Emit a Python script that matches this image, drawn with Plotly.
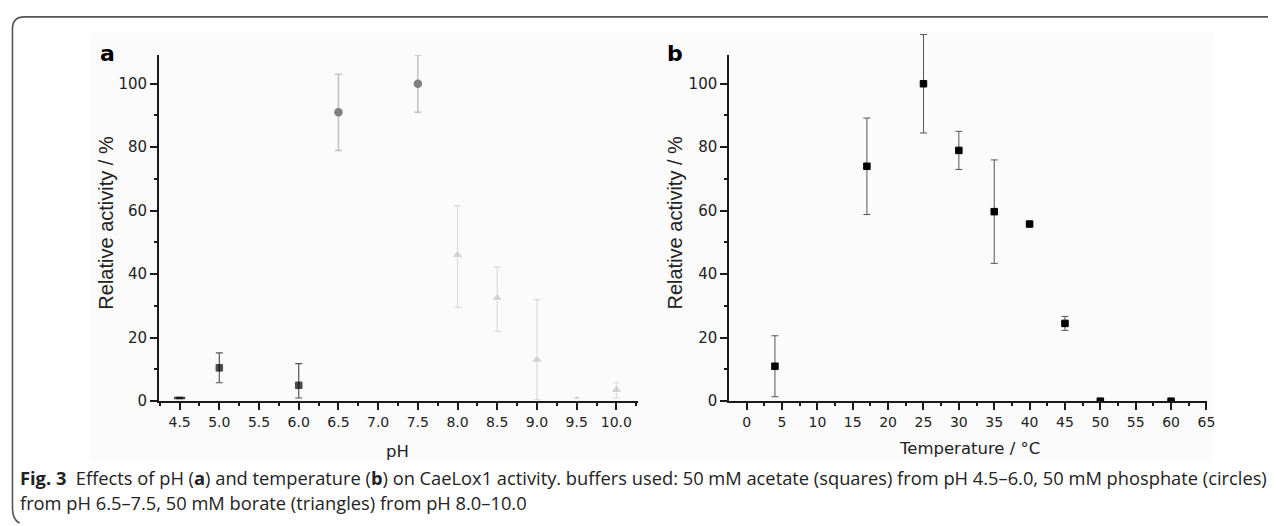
import plotly.graph_objects as go

# ---- Data: panel a (pH) ----
ph_acetate = [4.5, 5.0, 6.0]
act_acetate = [1.0, 10.5, 5.0]
err_acetate_plus = [0.2, 4.7, 6.8]
err_acetate_minus = [0.2, 4.7, 4.0]

ph_phosphate = [6.5, 7.5]
act_phosphate = [91.0, 100.0]
err_phosphate = [12.0, 9.0]

ph_borate = [8.0, 8.5, 9.0, 9.5, 10.0]
act_borate = [46.0, 32.5, 13.0, 1.0, 3.5]
err_borate_plus = [15.5, 9.8, 19.0, 0.0, 2.3]
err_borate_minus = [16.5, 10.5, 12.5, 0.0, 2.5]

# ---- Data: panel b (temperature) ----
temp_c = [4, 17, 25, 30, 35, 40, 45, 50, 60]
act_temp = [11.0, 74.0, 100.0, 79.0, 59.7, 55.8, 24.5, 0.0, 0.0]
err_temp = [9.6, 15.2, 15.5, 6.0, 16.3, 0.0, 2.2, 0.0, 0.0]

ph_ticks = [4.5, 5.0, 5.5, 6.0, 6.5, 7.0, 7.5, 8.0, 8.5, 9.0, 9.5, 10.0]
ph_ticklabels = ["%.1f" % v for v in ph_ticks]
temp_ticks = list(range(0, 70, 5))
y_ticks = [0, 20, 40, 60, 80, 100]

FONT = "Liberation Sans, Arial, sans-serif"
WIDE = "DejaVu Sans, Liberation Sans, sans-serif"
W, H = 1276, 526
Y0_PX, YTOP_PX, YTOP_DATA = 400, 48, 109.0

fig = go.Figure()

fig.add_trace(go.Scatter(
    x=ph_acetate, y=act_acetate, mode="markers", xaxis="x", yaxis="y",
    marker=dict(symbol=["line-ew", "square", "square"], size=[8, 6.5, 6.5], color="black",
                line=dict(color="black", width=[2.5, 1, 1])),
    error_y=dict(type="data", symmetric=False, array=err_acetate_plus,
                 arrayminus=err_acetate_minus, color="#555555", thickness=1.2, width=3.5),
    showlegend=False))

fig.add_trace(go.Scatter(
    x=ph_phosphate, y=act_phosphate, mode="markers", xaxis="x", yaxis="y",
    marker=dict(symbol="circle", size=8.5, color="#7f7f7f"),
    error_y=dict(type="data", array=err_phosphate, color="#c2c2c2", thickness=1.5, width=3.5),
    showlegend=False))

fig.add_trace(go.Scatter(
    x=ph_borate, y=act_borate, mode="markers", xaxis="x", yaxis="y",
    marker=dict(symbol="triangle-up", size=[10, 10, 10, 6, 10], color="#c6c6c6"),
    error_y=dict(type="data", symmetric=False, array=err_borate_plus,
                 arrayminus=err_borate_minus, color="#dadada", thickness=1.2, width=3.5),
    showlegend=False))

# empty trace so the visible panel-b axes form a subplot
fig.add_trace(go.Scatter(x=[], y=[], xaxis="x2", yaxis="y2", mode="markers",
                         showlegend=False, hoverinfo="skip"))

# panel b data on a hidden y axis with the same scale but a taller plot area,
# so the top error bar can extend above the visible axis line (as in the original)
fig.add_trace(go.Scatter(
    x=temp_c, y=act_temp, mode="markers", xaxis="x2", yaxis="y3",
    marker=dict(symbol="square", size=6.5, color="black", line=dict(color="black", width=1)),
    error_y=dict(type="data", array=err_temp, color="#555555", thickness=1, width=3.5),
    showlegend=False))

ydom = [1 - Y0_PX / H, 1 - YTOP_PX / H]
pxu = (Y0_PX - YTOP_PX) / YTOP_DATA
Y3TOP_PX = 18
y3dom = [1 - Y0_PX / H, 1 - Y3TOP_PX / H]
y3range = [0, (Y0_PX - Y3TOP_PX) / pxu]

# horizontal layout (pixels)
A_L, A_R, A_45, A_10 = 151.8, 633.5, 172.7, 612.2
pxa = (A_10 - A_45) / 5.5
xa_range = [4.5 - (A_45 - A_L) / pxa, 10.0 + (A_R - A_10) / pxa]
B_L, B_R, B_0, B_65 = 725.6, 1206.8, 743.3, 1206.0
pxb = (B_65 - B_0) / 65
xb_range = [-(B_0 - B_L) / pxb, 65 + (B_R - B_65) / pxb]

axis_common = dict(showline=True, linecolor="#1a1a1a", linewidth=1.6, ticks="outside",
                   ticklen=7, tickwidth=1.6, tickcolor="#1a1a1a", showgrid=False,
                   zeroline=False)
xfont = dict(family=WIDE, size=14, color="#222")
yfont = dict(family=WIDE, size=15, color="#222")
minor_style = dict(ticks="outside", ticklen=3.5, tickwidth=1.6, tickcolor="#1a1a1a")

fig.update_layout(
    width=W, height=H,
    margin=dict(l=0, r=0, t=0, b=0),
    paper_bgcolor="white", plot_bgcolor="rgba(0,0,0,0)",
    xaxis=dict(domain=[A_L / W, A_R / W], range=xa_range, anchor="y",
               tickmode="array", tickvals=ph_ticks, ticktext=ph_ticklabels,
               tickfont=xfont, minor=dict(dtick=0.25, tick0=4.25, **minor_style),
               **axis_common),
    yaxis=dict(domain=ydom, range=[0, YTOP_DATA], anchor="x",
               tickmode="array", tickvals=y_ticks, tickfont=yfont,
               minor=dict(dtick=10, tick0=0, **minor_style), **axis_common),
    xaxis2=dict(domain=[B_L / W, B_R / W], range=xb_range, anchor="y2",
                tickmode="array", tickvals=temp_ticks, tickfont=xfont,
                minor=dict(dtick=2.5, tick0=0, **minor_style), **axis_common),
    yaxis2=dict(domain=ydom, range=[0, YTOP_DATA], anchor="x2",
                tickmode="array", tickvals=y_ticks, tickfont=yfont,
                minor=dict(dtick=10, tick0=0, **minor_style), **axis_common),
    yaxis3=dict(domain=y3dom, range=y3range, anchor="x2", visible=False,
                showgrid=False, zeroline=False),
)

def px(x, y):
    return x / W, 1 - y / H

ann = []
for label, (x, y) in [("a", (100, 46)), ("b", (671, 46))]:
    ax_, ay_ = px(x, y)
    ann.append(dict(text="<b>%s</b>" % label, x=ax_, y=ay_, xref="paper", yref="paper",
                    showarrow=False, xanchor="center", yanchor="middle",
                    font=dict(family=WIDE, size=22, color="black")))
for x in (98.5, 671):
    ax_, ay_ = px(x, 218.5)
    ann.append(dict(text="Relative activity / %", x=ax_, y=ay_, xref="paper", yref="paper",
                    textangle=-90, showarrow=False, xanchor="center", yanchor="middle",
                    font=dict(family=FONT, size=20, color="#222")))
for text, x, y in [("pH", 392, 451), ("Temperature / °C", 968, 448)]:
    ax_, ay_ = px(x, y)
    ann.append(dict(text=text, x=ax_, y=ay_, xref="paper", yref="paper",
                    showarrow=False, xanchor="center", yanchor="middle",
                    font=dict(family=WIDE, size=16.5, color="#222")))

caption1 = ("<b>Fig. 3</b>\u00a0 Effects of pH (<b>a</b>) and temperature (<b>b</b>) on CaeLox1 activity. "
            "buffers used: 50 mM acetate (squares) from pH 4.5–6.0, 50 mM phosphate (circles)")
caption2 = "from pH 6.5–7.5, 50 mM borate (triangles) from pH 8.0–10.0"
for text, y in [(caption1, 478), (caption2, 503)]:
    ax_, ay_ = px(10, y)
    ann.append(dict(text=text, x=ax_, y=ay_, xref="paper", yref="paper",
                    showarrow=False, xanchor="left", yanchor="middle",
                    font=dict(family="Open Sans, sans-serif", size=18.3, color="#222")))
fig.update_layout(annotations=ann)

# faint background of the embedded chart image
bx0, by0 = px(82, 25)
bx1, by1 = px(1213, 462)
fig.add_shape(type="rect", x0=bx0, y0=by1, x1=bx1, y1=by0, xref="paper", yref="paper",
              fillcolor="#fbfbfb", line=dict(width=0), layer="below")

# rounded frame (top and left edges)
r = 12
x0, y0, y1 = 4.5, 9, 521
def P(x, y):
    a, b = px(x, y)
    return "%.5f,%.5f" % (a, b)
path = ("M %s L %s Q %s %s L %s Q %s %s" % (
    P(W + 5, y0), P(x0 + r, y0), P(x0, y0), P(x0, y0 + r),
    P(x0, y1 - r), P(x0, y1), P(x0 + r * 0.6, y1 + 3)))
fig.add_shape(type="path", path=path, xref="paper", yref="paper",
              line=dict(color="#555555", width=1.6))

fig.write_html("out.html")
